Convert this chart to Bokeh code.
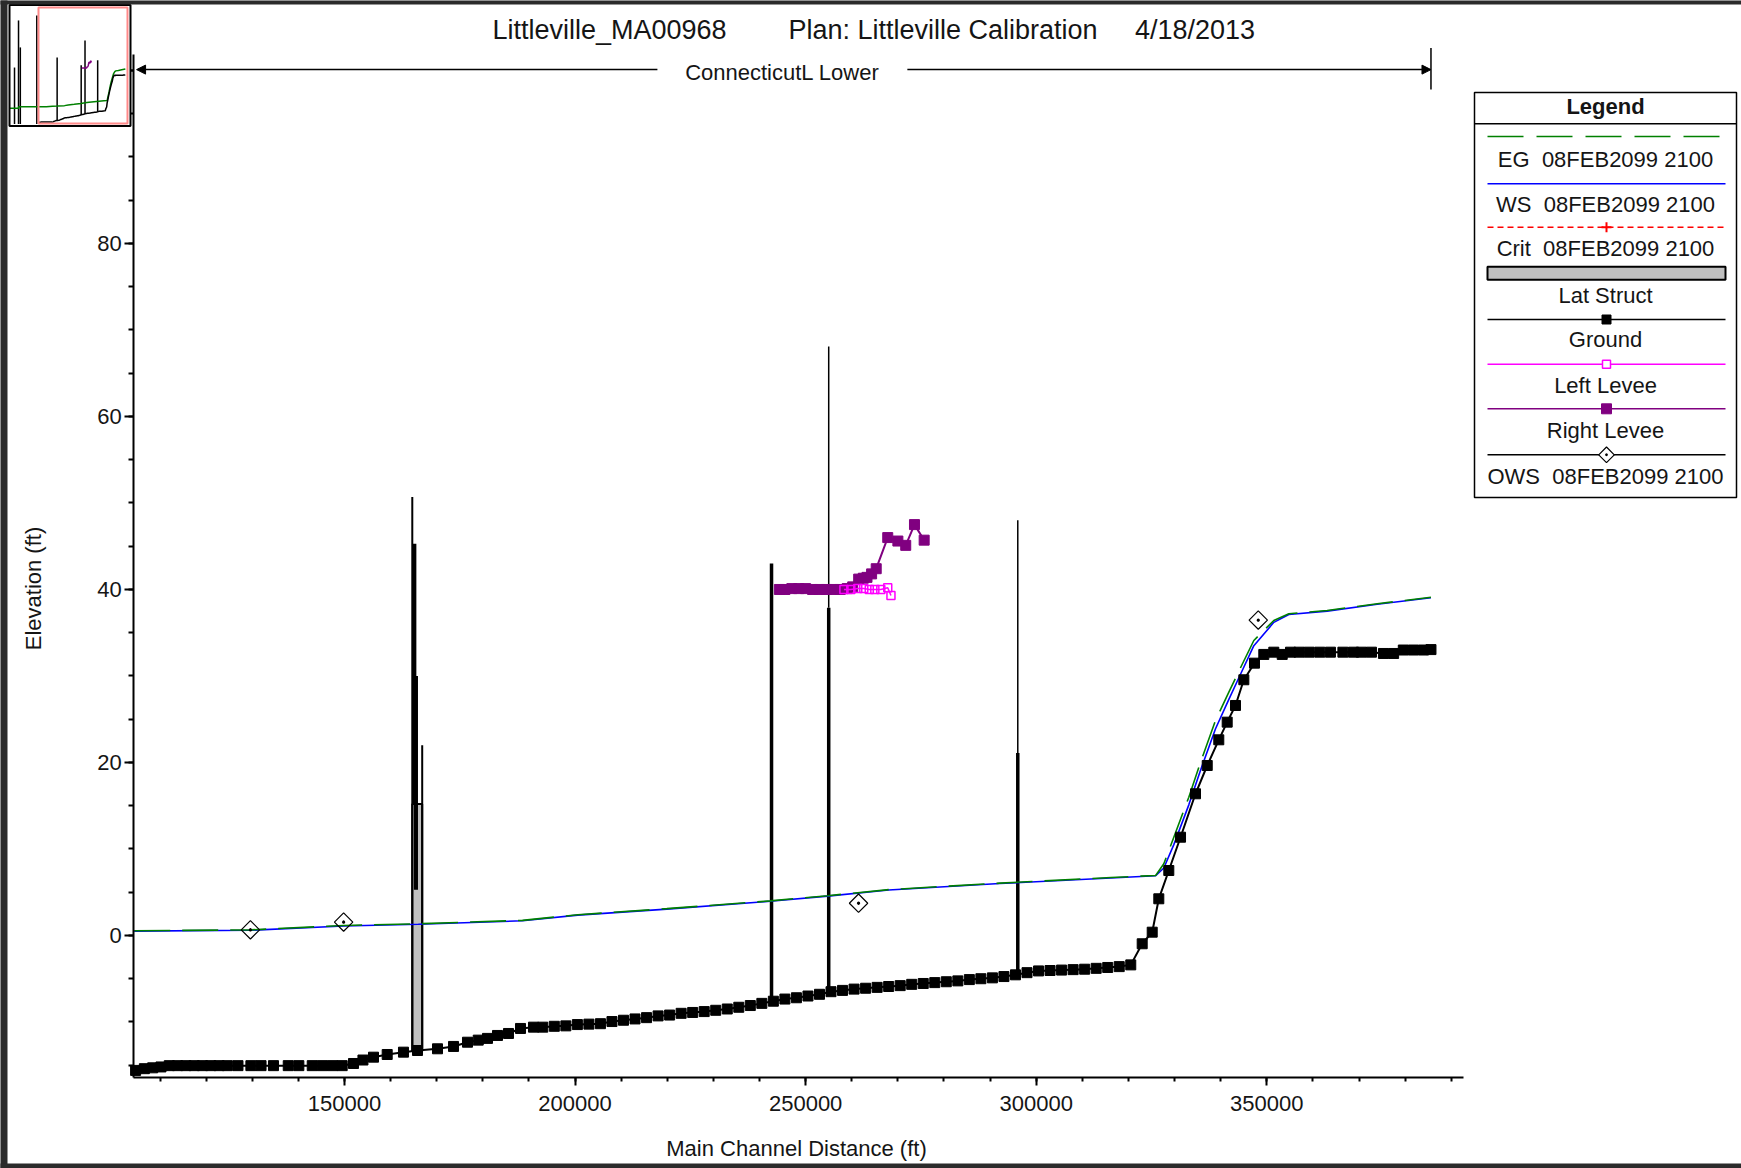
import numpy as np
from bokeh.plotting import figure
from bokeh.models import Range1d, SingleIntervalTicker, BasicTickFormatter, Arrow, NormalHead
from bokeh.core.properties import value
from bokeh.embed import file_html
from bokeh.resources import INLINE

FONT = "Liberation Sans"

# ---------------- profile data (main channel station ft, elevation ft) ----------------
ground_x = [104700, 106600, 108400, 110200, 112000, 113800, 115600, 117400, 119200, 121000,
            122800, 124600, 126900, 129700, 131900, 134600, 137800, 140100, 143000, 145200,
            147400, 149500, 151950, 154000, 156290, 159260, 162790, 165830, 170170, 173640,
            176670, 179000, 181010, 183180, 185560, 188170, 190980,
            193000, 195500, 198000, 200500, 203000, 205500, 208000, 210500, 213000, 215500,
            218000, 220500, 223000, 225500, 228000, 230500, 233000, 235500, 238000, 240500,
            243000, 245500, 248000, 250500, 253000, 255500, 258000, 260500, 263000, 265500,
            268000, 270500, 273000, 275500, 278000, 280500, 283000, 285500, 288000, 290500,
            293000, 295500, 298000, 300500, 303000, 305500, 308000, 310500, 313000, 315500,
            318000, 320500,
            322980, 325150, 326580, 328750, 331290, 334540, 337080, 339590, 341410, 343210,
            345020, 347330, 349350, 351520, 353340, 355140, 357000, 359200, 361500, 363800,
            366500, 368800, 370500, 372700, 375300, 377500, 379600, 381800, 384000, 385600]
ground_y = [-15.6, -15.4, -15.3, -15.2, -15.05, -15.05, -15.05, -15.05, -15.05, -15.05,
            -15.05, -15.05, -15.05, -15.05, -15.05, -15.05, -15.05, -15.05, -15.05, -15.05,
            -15.05, -15.05, -14.8, -14.4, -14.07, -13.76, -13.49, -13.3, -13.1, -12.83,
            -12.34, -12.1, -11.9, -11.56, -11.33, -10.75, -10.6,
            -10.6, -10.5, -10.45, -10.3, -10.25, -10.2, -9.95, -9.8, -9.65, -9.5,
            -9.3, -9.2, -9.0, -8.9, -8.8, -8.65, -8.5, -8.3, -8.1, -7.85,
            -7.6, -7.35, -7.2, -7.0, -6.8, -6.5, -6.35, -6.2, -6.1, -6.0,
            -5.9, -5.8, -5.65, -5.55, -5.45, -5.35, -5.25, -5.1, -5.0, -4.9,
            -4.75, -4.55, -4.3, -4.1, -4.05, -4.0, -3.95, -3.9, -3.8, -3.7,
            -3.6, -3.4,
            -0.96, 0.38, 4.24, 7.51, 11.36, 16.38, 19.65, 22.62, 24.66, 26.59,
            29.56, 31.48, 32.49, 32.75, 32.49, 32.75, 32.75, 32.75, 32.75, 32.75,
            32.75, 32.75, 32.75, 32.75, 32.6, 32.6, 33.0, 33.0, 33.0, 33.05]

prof_x = [104400, 129600, 149850, 166000, 188600, 200600, 219900, 242300, 254800, 268000,
          292100, 316200, 325900, 327670, 329840, 333090, 335630, 338880, 341770, 344300,
          347190, 351520, 354780, 363090, 373940, 385600]
eg_y = [0.55, 0.65, 1.16, 1.35, 1.75, 2.4, 3.1, 4.0, 4.6, 5.3,
        6.05, 6.7, 6.94, 8.29, 11.36, 15.99, 20.03, 24.86, 28.13, 30.95,
        34.1, 36.42, 37.19, 37.57, 38.35, 39.1]
ws_y = [0.5, 0.6, 1.1, 1.3, 1.7, 2.35, 3.05, 3.95, 4.55, 5.25,
        6.0, 6.65, 6.9, 7.8, 10.5, 15.1, 19.1, 23.9, 27.3, 30.2,
        33.5, 36.2, 37.1, 37.5, 38.3, 39.05]

right_levee_x = [244300, 245500, 247000, 248500, 250000, 251500, 253000, 254500, 256000, 257500,
                 259000, 260200, 261500, 262500, 263300, 264300, 265300, 267800, 270000, 271700,
                 273600, 275700]
right_levee_y = [40.0, 40.0, 40.1, 40.1, 40.1, 40.0, 40.0, 40.0, 40.0, 40.0,
                 40.1, 40.3, 41.2, 41.3, 41.4, 41.8, 42.4, 46.0, 45.6, 45.1,
                 47.5, 45.7]
left_levee_x = [258300, 259800, 261300, 262600, 263800, 265000, 266300, 267800, 268500]
left_levee_y = [40.0, 40.0, 40.1, 40.1, 40.0, 40.0, 40.0, 40.2, 39.3]

ows_x = [129600, 149810, 261470, 348150]
ows_y = [0.65, 1.55, 3.73, 36.46]

# bridges / inline structures: deck top and rail top
bridge_x = [242600, 255000, 296000]
bridge_deck = [43.0, 37.9, 21.1]
bridge_top = [43.0, 68.1, 48.0]

# lateral structure near 165000
lat_x0, lat_x1, lat_top = 164700, 166850, 15.2
lat_line_x = [164700, 165150, 165500, 166850]
lat_line_low = [None, 15.2, 5.3, None]
lat_line_high = [50.7, 45.3, 30.0, 22.0]

# upstream part of the river shown only in the overview map
up_struct_x = [26600, 39600, 45400, 98800]
up_struct_top = [40.6, 88.6, 61.1, 93.7]
up_eg_x = [10000, 40000, 40000, 104400]
up_eg_y = [-0.9, -0.9, 0.5, 0.55]

reach_name = "ConnecticutL Lower"
title_parts = ["Littleville_MA00968", "Plan: Littleville Calibration", "4/18/2013"]
NB2 = "\u00a0\u00a0"
legend_labels = ["EG" + NB2 + "08FEB2099 2100", "WS" + NB2 + "08FEB2099 2100",
                 "Crit" + NB2 + "08FEB2099 2100", "Lat Struct", "Ground", "Left Levee",
                 "Right Levee", "OWS" + NB2 + "08FEB2099 2100"]

# ---------------- figure ----------------
W, H = 1741, 1168
x_view = (75404, 452938)
y_view = (-26.94, 108.09)
x_bounds = (104310, 392650)
y_bounds = (-16.47, 101.8)

p = figure(width=W, height=H, x_range=Range1d(*x_view), y_range=Range1d(*y_view),
           output_backend="svg", toolbar_location=None, title=None,
           min_border=0, min_border_left=0, min_border_right=0,
           min_border_top=0, min_border_bottom=0)
p.extra_x_ranges = {"px": Range1d(0, W)}
p.extra_y_ranges = {"px": Range1d(H, 0)}
p.outline_line_color = None
p.grid.visible = False
p.background_fill_color = "white"
p.border_fill_color = "white"

xa = p.xaxis[0]
ya = p.yaxis[0]
xa.fixed_location = y_bounds[0]
xa.bounds = x_bounds
xa.ticker = SingleIntervalTicker(interval=50000, num_minor_ticks=5)
xa.formatter = BasicTickFormatter(use_scientific=False)
ya.fixed_location = x_bounds[0]
ya.bounds = y_bounds
ya.ticker = SingleIntervalTicker(interval=20, num_minor_ticks=4)
for ax in (xa, ya):
    ax.axis_line_width = 2
    ax.axis_line_color = "black"
    ax.major_tick_line_width = 2
    ax.minor_tick_line_width = 2
    ax.major_tick_in = 0
    ax.minor_tick_in = 0
    ax.major_label_text_font = FONT
    ax.major_label_text_font_size = "22px"
    ax.major_label_text_color = "#151515"
xa.major_tick_out = 8
xa.minor_tick_out = 4
ya.major_tick_out = 9
ya.minor_tick_out = 5
xa.major_label_standoff = 10
ya.major_label_standoff = 3

PX = dict(x_range_name="px", y_range_name="px")

def gnd(x):
    return float(np.interp(x, ground_x, ground_y))

# lateral structure
p.quad(left=[lat_x0], right=[lat_x1], bottom=[gnd(lat_x0)], top=[lat_top],
       fill_color="#c0c0c0", line_color="black", line_width=2)
lat_low = [gnd(x) if v is None else v for x, v in zip(lat_line_x, lat_line_low)]
p.segment(x0=lat_line_x, y0=lat_low, x1=lat_line_x, y1=lat_line_high,
          line_color="black", line_width=[2, 4, 4, 2])

# bridges
bridge_base = [gnd(x) for x in bridge_x]
p.segment(x0=bridge_x, y0=bridge_deck, x1=bridge_x, y1=bridge_top,
          line_color="black", line_width=1.5)
p.segment(x0=bridge_x, y0=bridge_base, x1=bridge_x, y1=bridge_deck,
          line_color="black", line_width=3.5)

# water surface and energy grade
p.line(prof_x, ws_y, line_color="#0000ff", line_width=1.6)
p.line(prof_x, eg_y, line_color="#008000", line_width=1.6, line_dash="36 12")

# ground
p.line(ground_x, ground_y, line_color="black", line_width=2)
p.scatter(ground_x, ground_y, marker="square", size=10, color="black")

# levees
p.line(right_levee_x, right_levee_y, line_color="#800080", line_width=2)
p.scatter(right_levee_x, right_levee_y, marker="square", size=10, color="#800080")
p.line(left_levee_x, left_levee_y, line_color="#ff00ff", line_width=1.5)
p.scatter(left_levee_x, left_levee_y, marker="square", size=8, line_color="#ff00ff",
          fill_color=None, line_width=1.5)

# observed water surface
p.scatter(ows_x, ows_y, marker="square_dot", angle=np.pi / 4, size=13,
          line_color="black", fill_color=None, line_width=1.2)

# reach extent arrow
arrow_y = 100.1
reach_mid = (x_bounds[0] + ground_x[-1]) / 2
gap = 27100
head = dict(size=9, fill_color="black", line_color="black")
p.add_layout(Arrow(end=NormalHead(**head), x_start=reach_mid - gap, y_start=arrow_y,
                   x_end=x_bounds[0] + 600, y_end=arrow_y, line_width=1.5))
p.add_layout(Arrow(end=NormalHead(**head), x_start=reach_mid + gap, y_start=arrow_y,
                   x_end=ground_x[-1], y_end=arrow_y, line_width=1.5))
p.segment(x0=[ground_x[-1]], y0=[97.8], x1=[ground_x[-1]], y1=[102.6],
          line_color="black", line_width=1.5)
p.text(x=[reach_mid], y=[arrow_y - 0.3], text=[reach_name], text_align="center",
       text_baseline="middle", text_font=value(FONT), text_font_size="22px",
       text_color="#151515")

# title
p.text(x=[609, 942.5, 1194.5], y=[29, 29, 29], text=title_parts, text_align="center",
       text_baseline="middle", text_font=value(FONT), text_font_size="27px",
       text_color="#151515", **PX)

# axis titles
p.text(x=[33], y=[588], text=["Elevation (ft)"], angle=np.pi / 2, text_align="center",
       text_baseline="middle", text_font=value(FONT), text_font_size="22px",
       text_color="#151515", **PX)
p.text(x=[796], y=[1148], text=["Main Channel Distance (ft)"], text_align="center",
       text_baseline="middle", text_font=value(FONT), text_font_size="22px",
       text_color="#151515", **PX)

# ---------------- legend ----------------
LX0, LX1, LY0, LY1 = 1474, 1736, 92, 497
SX0, SX1, SXC = 1487, 1725, 1606
sample_y = [136, 183.3, 226.7, 272.7, 319, 363.7, 408.3, 454.3]
label_y = [159.3, 204, 248.3, 295, 339.3, 385, 430, 476]
p.quad(left=[LX0], right=[LX1], top=[LY0], bottom=[LY1], fill_color="white",
       line_color="black", line_width=1.5, **PX)
p.segment(x0=[LX0], y0=[123.3], x1=[LX1], y1=[123.3], line_color="black", line_width=1.5, **PX)
p.text(x=[(LX0 + LX1) / 2], y=[106], text=["Legend"], text_align="center",
       text_baseline="middle", text_font=value(FONT), text_font_size="22px",
       text_font_style="bold", text_color="#151515", **PX)
p.segment(x0=[SX0], y0=[sample_y[0]], x1=[SX1], y1=[sample_y[0]], line_color="#008000",
          line_width=1.6, line_dash="36 13", **PX)
p.segment(x0=[SX0], y0=[sample_y[1]], x1=[SX1], y1=[sample_y[1]], line_color="#0000ff",
          line_width=1.6, **PX)
p.segment(x0=[SX0], y0=[sample_y[2]], x1=[SX1], y1=[sample_y[2]], line_color="#ff0000",
          line_width=1.5, line_dash="6 4", **PX)
p.scatter(x=[SXC], y=[sample_y[2]], marker="cross", size=10, line_color="#ff0000",
          line_width=2, **PX)
p.quad(left=[SX0], right=[SX1], top=[sample_y[3] - 6.5], bottom=[sample_y[3] + 6.5],
       fill_color="#c0c0c0", line_color="black", line_width=2, **PX)
p.segment(x0=[SX0], y0=[sample_y[4]], x1=[SX1], y1=[sample_y[4]], line_color="black",
          line_width=1.5, **PX)
p.scatter(x=[SXC], y=[sample_y[4]], marker="square", size=9, color="black", **PX)
p.segment(x0=[SX0], y0=[sample_y[5]], x1=[SX1], y1=[sample_y[5]], line_color="#ff00ff",
          line_width=1.5, **PX)
p.scatter(x=[SXC], y=[sample_y[5]], marker="square", size=8, line_color="#ff00ff",
          fill_color="white", line_width=1.5, **PX)
p.segment(x0=[SX0], y0=[sample_y[6]], x1=[SX1], y1=[sample_y[6]], line_color="#800080",
          line_width=1.5, **PX)
p.scatter(x=[SXC], y=[sample_y[6]], marker="square", size=10, color="#800080", **PX)
p.segment(x0=[SX0], y0=[sample_y[7]], x1=[SX1], y1=[sample_y[7]], line_color="black",
          line_width=1.5, **PX)
p.scatter(x=[SXC], y=[sample_y[7]], marker="square_dot", angle=np.pi / 4, size=11,
          line_color="black", fill_color="white", line_width=1.2, **PX)
p.text(x=[(LX0 + LX1) / 2] * len(legend_labels), y=label_y, text=legend_labels,
       text_align="center", text_baseline="middle", text_font=value(FONT),
       text_font_size="22px", text_color="#151515", **PX)

# ---------------- overview map (top left) ----------------
OV = dict(x_range_name="px", y_range_name="px", level="overlay")
BX0, BY0, BX1, BY1 = 9, 4.5, 130, 125.5
RX0, RY0, RX1, RY1 = 38, 7, 127, 123

def ov_x(x):
    x = np.asarray(x, dtype=float)
    return RX0 + (x - x_bounds[0]) / (x_bounds[1] - x_bounds[0]) * (RX1 - RX0)

def ov_y(y):
    y = np.asarray(y, dtype=float)
    return RY1 - (y - y_bounds[0]) / (y_bounds[1] - y_bounds[0]) * (RY1 - RY0)

p.quad(left=[BX0], right=[BX1], top=[BY0], bottom=[BY1], fill_color="white",
       line_color=None, **OV)
up_sx = ov_x(up_struct_x)
p.segment(x0=up_sx, y0=[BY1 - 2] * len(up_sx), x1=up_sx, y1=ov_y(up_struct_top),
          line_color="black", line_width=1.5, **OV)
p.line(ov_x(up_eg_x), ov_y(up_eg_y), line_color="#008000", line_width=1.5, **OV)
bx = ov_x(bridge_x)
p.segment(x0=bx, y0=ov_y(bridge_base), x1=bx, y1=ov_y(bridge_top), line_color="black",
          line_width=1.5, **OV)
lx = ov_x([lat_line_x[0]])
p.segment(x0=lx, y0=ov_y([gnd(lat_line_x[0])]), x1=lx, y1=ov_y([lat_line_high[0]]),
          line_color="black", line_width=1.5, **OV)
p.line(ov_x(prof_x), ov_y(eg_y), line_color="#008000", line_width=1.5, **OV)
p.line(ov_x(ground_x), ov_y(ground_y), line_color="black", line_width=1.5, **OV)
p.line(ov_x(right_levee_x), ov_y(right_levee_y), line_color="#800080", line_width=1.5, **OV)
p.quad(left=[RX0], right=[RX1], top=[RY0], bottom=[RY1], fill_color=None,
       line_color="#ff8a8a", line_width=2, **OV)
p.quad(left=[BX0], right=[BX1], top=[BY0], bottom=[BY1], fill_color=None,
       line_color="black", line_width=2, **OV)

# dark window edges
p.quad(left=[0, 0, 0], right=[W, 7, W], top=[0, 0, 1163], bottom=[4, H, H],
       fill_color="#2b2b2b", line_color=None, **OV)

open("out.html", "w").write(file_html(p, INLINE))
